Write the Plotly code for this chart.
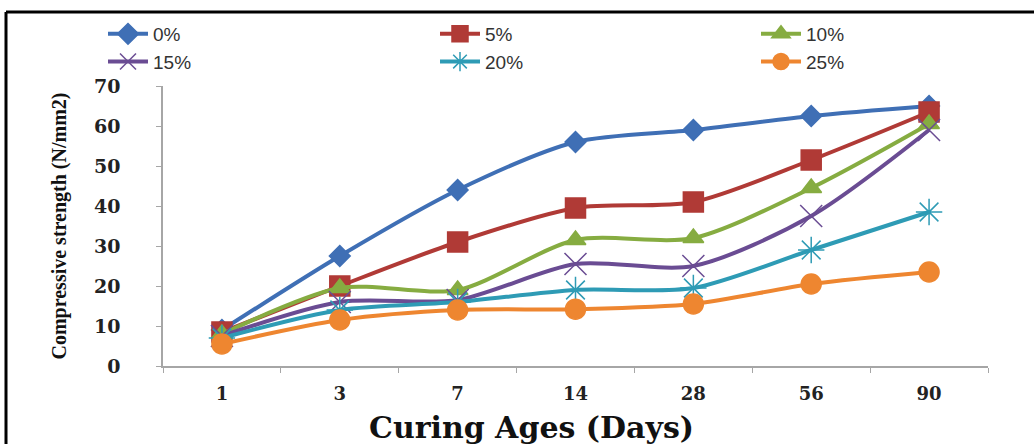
import plotly.graph_objects as go

categories = ["1", "3", "7", "14", "28", "56", "90"]
series_names = ["0%", "5%", "10%", "15%", "20%", "25%"]
s0 = [9, 27.5, 44, 56, 59, 62.5, 65]
s5 = [8.5, 20, 31, 39.5, 41, 51.5, 63.5]
s10 = [8, 19.5, 19, 31.5, 32, 44.5, 60.5]
s15 = [7.5, 16, 16.5, 25.5, 25, 37.5, 59]
s20 = [7, 14, 16, 19, 19.5, 29, 38.5]
s25 = [5.5, 11.5, 14, 14.2, 15.5, 20.5, 23.5]
values = [s0, s5, s10, s15, s20, s25]

colors = ["#3F6FB5", "#B03A36", "#86AC41", "#6A4C93", "#2E9BB5", "#EE8630"]
symbols = ["diamond", "square", "triangle-up", "x-thin", "asterisk", "circle"]
sizes = [16, 20, 18, 22, 22, 20]
legend_ids = ["legend", "legend2", "legend3", "legend", "legend2", "legend3"]

fig = go.Figure()
for name, vals, c, sym, sz, lg in zip(series_names, values, colors, symbols, sizes, legend_ids):
    fig.add_trace(go.Scatter(
        x=categories, y=vals, name=name, mode="lines+markers", legend=lg,
        line=dict(color=c, width=4, shape="spline", smoothing=0.8),
        marker=dict(symbol=sym, size=sz, color=c,
                    line=dict(color=c, width=1.5)),
    ))

W, H = 1034, 444
L, R, T, B = 163, 46, 86, 78
pw, ph = W - L - R, H - T - B

def px(x):
    return (x - L) / pw

def py(y):
    return (H - B - y) / ph

fig.add_shape(type="line", xref="paper", yref="paper",
              x0=px(6), x1=px(1040), y0=py(12), y1=py(12),
              line=dict(color="black", width=3))
fig.add_shape(type="line", xref="paper", yref="paper",
              x0=px(6), x1=px(6), y0=py(12), y1=py(450),
              line=dict(color="black", width=3))

fig.add_annotation(text="<b>Curing Ages (Days)</b>", xref="paper", yref="paper",
                   x=px(531), y=py(427), showarrow=False, xanchor="center", yanchor="middle",
                   font=dict(family="DejaVu Serif", size=30, color="#111111"))

leg_common = dict(orientation="v", yanchor="top", xanchor="left",
                  font=dict(family="Liberation Sans", size=19, color="#333333"),
                  tracegroupgap=0, itemwidth=40, bgcolor="rgba(0,0,0,0)")

fig.update_layout(
    width=W, height=H,
    margin=dict(l=L, r=R, t=T, b=B),
    paper_bgcolor="white", plot_bgcolor="white",
    showlegend=True,
    legend=dict(x=px(103), y=py(15), **leg_common),
    legend2=dict(x=px(435), y=py(15), **leg_common),
    legend3=dict(x=px(756), y=py(15), **leg_common),
    xaxis=dict(type="category", range=[-0.5, 6.5], showgrid=False,
               showline=True, linecolor="#A6A6A6", linewidth=1.5,
               ticks="outside", tickcolor="#A6A6A6", ticklen=5, tickson="boundaries",
               tickfont=dict(family="DejaVu Serif", size=18, color="#222222", weight="bold"),
               ticklabelstandoff=11),
    yaxis=dict(range=[0, 70], dtick=10, showgrid=False, zeroline=False,
               showline=True, linecolor="#A6A6A6", linewidth=1.5,
               ticks="outside", tickcolor="#A6A6A6", ticklen=5,
               tickfont=dict(family="DejaVu Serif", size=19, color="#222222", weight="bold"),
               ticklabelstandoff=32,
               title=dict(text="Compressive strength (N/mm2)", standoff=22,
                          font=dict(family="Liberation Serif", size=20, color="#111111", weight="bold"))),
)

fig.write_html("out.html", config={"displayModeBar": False},
               post_script="document.body.style.margin='0px';")
